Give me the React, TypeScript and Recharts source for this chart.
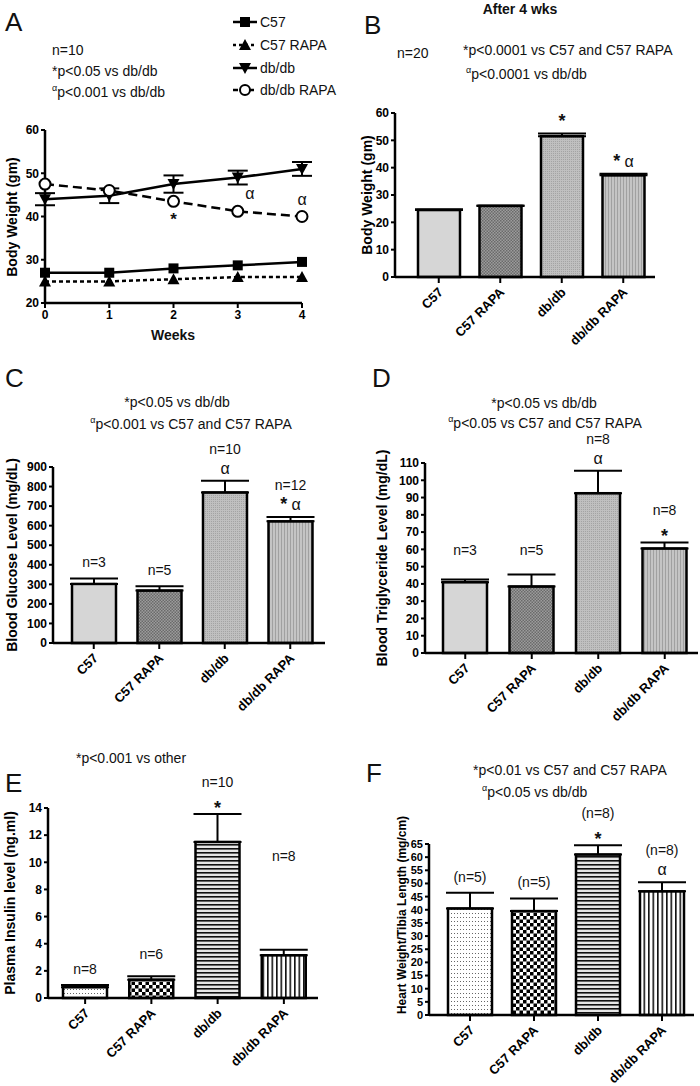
import React from "react";
import { LineChart, Line, BarChart, Bar, XAxis, YAxis, ErrorBar } from "recharts";

const FONT = "'Liberation Sans', Arial, Helvetica, sans-serif";

const groups = ["C57", "C57 RAPA", "db/db", "db/db RAPA"];

// A: body weight over 4 weeks
const weeks = [0, 1, 2, 3, 4];
const c57Weight = [27, 27, 28, 28.7, 29.5];
const c57RapaWeight = [25, 25, 25.5, 26, 26];
const dbWeight = [44, 44.8, 47.5, 49, 51];
const dbWeightErr = [1.4, 1.7, 2, 1.6, 1.6];
const dbRapaWeight = [47.5, 46, 43.5, 41.2, 40];
const dbRapaSig = ["", "", "*", "α", "α"];
const weightTicks = [20, 30, 40, 50, 60];

// B: body weight after 4 wks
const weight4 = [24.5, 26, 51.5, 37.2];
const weight4Err = [0.3, 0.2, 1, 0.6];
const weight4Sig = ["", "", "*", "* α"];
const weight4Ticks = [0, 10, 20, 30, 40, 50, 60];

// C: blood glucose
const glucose = [302, 268, 770, 622];
const glucoseErr = [28, 22, 60, 22];
const glucoseN = ["n=3", "n=5", "n=10", "n=12"];
const glucoseSig = ["", "", "α", "* α"];
const glucoseTicks = [0, 100, 200, 300, 400, 500, 600, 700, 800, 900];

// D: triglyceride
const trig = [41, 38.5, 92.5, 60.5];
const trigErr = [1.5, 7, 13, 3.5];
const trigN = ["n=3", "n=5", "n=8", "n=8"];
const trigSig = ["", "", "α", "*"];
const trigTicks = [0, 10, 20, 30, 40, 50, 60, 70, 80, 90, 100, 110];

// E: plasma insulin
const insulin = [0.8, 1.35, 11.5, 3.15];
const insulinErr = [0.15, 0.25, 2.05, 0.4];
const insulinN = ["n=8", "n=6", "n=10", "n=8"];
const insulinSig = ["", "", "*", ""];
const insulinTicks = [0, 2, 4, 6, 8, 10, 12, 14];

// F: heart weight / tibia length
const heart = [40.5, 39.5, 61, 47];
const heartErr = [6, 4.8, 3.5, 3.5];
const heartN = ["(n=5)", "(n=5)", "(n=8)", "(n=8)"];
const heartSig = ["", "", "*", "α"];
const heartTicks = [0, 5, 10, 15, 20, 25, 30, 35, 40, 45, 50, 55, 60, 65];

const grayFills = ["#d6d6d6", "url(#pGrayDark)", "url(#pGrayFine)", "url(#pGrayVert)"];
const bwFills = ["url(#pDots)", "url(#pChecker)", "url(#pHoriz)", "url(#pVert)"];

function Patterns() {
  return (
    <svg width={0} height={0} style={{ position: "absolute" }}>
      <defs>
        <pattern id="pGrayDark" width="3" height="3" patternUnits="userSpaceOnUse">
          <rect width="3" height="3" fill="#9c9c9c" />
          <rect width="1.5" height="1.5" fill="#6a6a6a" />
          <rect x="1.5" y="1.5" width="1.5" height="1.5" fill="#6a6a6a" />
        </pattern>
        <pattern id="pGrayFine" width="2" height="2" patternUnits="userSpaceOnUse">
          <rect width="2" height="2" fill="#c0c0c0" />
          <rect width="1" height="1" fill="#a4a4a4" />
        </pattern>
        <pattern id="pGrayVert" width="3" height="3" patternUnits="userSpaceOnUse">
          <rect width="3" height="3" fill="#c4c4c4" />
          <rect width="1" height="3" fill="#a0a0a0" />
        </pattern>
        <pattern id="pDots" width="3" height="4" patternUnits="userSpaceOnUse">
          <rect width="3" height="4" fill="#fff" />
          <rect x="1" y="1" width="1" height="1" fill="#666" />
        </pattern>
        <pattern id="pChecker" width="7" height="7" patternUnits="userSpaceOnUse">
          <rect width="7" height="7" fill="#fff" />
          <rect width="3.5" height="3.5" fill="#000" />
          <rect x="3.5" y="3.5" width="3.5" height="3.5" fill="#000" />
        </pattern>
        <pattern id="pHoriz" width="4" height="4" patternUnits="userSpaceOnUse">
          <rect width="4" height="4" fill="#e6e6e6" />
          <rect width="4" height="1.6" fill="#111" />
        </pattern>
        <pattern id="pVert" width="4.5" height="4" patternUnits="userSpaceOnUse">
          <rect width="4.5" height="4" fill="#fff" />
          <rect width="1.6" height="4" fill="#111" />
        </pattern>
      </defs>
    </svg>
  );
}

function Txt({ x, y, size = 14, bold = false, center = false, children }: any) {
  return (
    <div
      style={{
        position: "absolute", left: x, top: y, fontFamily: FONT, fontSize: size,
        fontWeight: bold ? "bold" : "normal", lineHeight: 1, whiteSpace: "nowrap", color: "#111",
        transform: `translate(${center ? "-50%" : "0"}, -50%)`,
      }}
    >
      {children}
    </div>
  );
}

function YTitle({ x, y, children, size = 14 }: any) {
  return (
    <div
      style={{
        position: "absolute", left: x, top: y, fontFamily: FONT, fontSize: size, fontWeight: "bold",
        lineHeight: 1, whiteSpace: "nowrap", color: "#000",
        transform: "translate(-50%, -50%) rotate(-90deg)",
      }}
    >
      {children}
    </div>
  );
}

const Alpha = () => <span style={{ fontSize: 9, verticalAlign: "6px" }}>α</span>;

const RotTick = (props: any) => {
  const { x, y, payload } = props;
  const ax = x + 5;
  const ay = y + 8;
  return (
    <text x={ax} y={ay} textAnchor="end" transform={`rotate(-45, ${ax}, ${ay})`}
      fontFamily={FONT} fontSize={13} fontWeight="bold" fill="#000">
      {payload.value}
    </text>
  );
};

function sigText(sig: string) {
  return sig.split("").map((c, i) =>
    c === "*" ? <tspan key={i} fontWeight="bold" fontSize={18}>*</tspan>
      : c === "α" ? <tspan key={i} fontSize={16}>α</tspan>
      : <tspan key={i} fontSize={15}>{c}</tspan>
  );
}

function topLabels(errs: number[], ns: string[] | undefined, sigs: string[] | undefined, lifts: number[]) {
  return (p: any) => {
    const { x, y, width, height, value, index } = p;
    const ppu = value ? height / value : 0;
    const errTop = y - errs[index] * ppu;
    const cx = x + width / 2;
    const sig = sigs ? sigs[index] : "";
    const n = ns ? ns[index] : "";
    let base = errTop - 7;
    const parts: any[] = [];
    if (sig) {
      parts.push(
        <text key="s" x={cx} y={sig === "*" ? base + 7 - (lifts[index] || 0) : base - (lifts[index] || 0)}
          textAnchor="middle" fontFamily={FONT} fill="#111">
          {sigText(sig)}
        </text>
      );
      base -= 20;
    } else {
      base = errTop - 11;
    }
    base -= lifts[index] || 0;
    if (n) {
      parts.push(
        <text key="n" x={cx} y={base} textAnchor="middle" fontFamily={FONT} fontSize={14} fill="#111">{n}</text>
      );
    }
    return <g key={`lab${index}`}>{parts}</g>;
  };
}

type Box = { left: number; right: number; top: number; bottom: number };

function BarPanel({ box, values, errs, ticks, fills, ns, sigs, padLeft, padRight, barSize = 44, tickFont = 12, lifts = [0, 0, 0, 0] }: {
  box: Box; values: number[]; errs: number[]; ticks: number[]; fills: string[]; ns?: string[]; sigs?: string[];
  padLeft: number; padRight: number; barSize?: number; tickFont?: number; lifts?: number[];
}) {
  const yW = 60;
  const mTop = 40;
  const xH = 70;
  const left = box.left - yW;
  const top = box.top - mTop;
  const width = box.right - left + 6;
  const height = box.bottom - top + xH + 2;
  const rows = groups.map((g, i) => ({ name: g, value: values[i], err: [0, errs[i]], fill: fills[i] }));
  return (
    <div style={{ position: "absolute", left, top }}>
      <BarChart width={width} height={height} data={rows} margin={{ top: mTop, right: 6, left: 0, bottom: 2 }}>
        <XAxis dataKey="name" interval={0} tick={<RotTick />} height={xH} padding={{ left: padLeft, right: padRight }}
          axisLine={{ stroke: "#000", strokeWidth: 2.5 }} tickLine={{ stroke: "#000", strokeWidth: 2 }} tickSize={6} />
        <YAxis width={yW} domain={[ticks[0], ticks[ticks.length - 1]]} ticks={ticks} interval={0}
          tick={{ fontFamily: FONT, fontSize: tickFont, fontWeight: "bold", fill: "#000" }}
          axisLine={{ stroke: "#000", strokeWidth: 2.5 }} tickLine={{ stroke: "#000", strokeWidth: 2 }} tickSize={4} />
        <Bar dataKey="value" barSize={barSize} stroke="#000" strokeWidth={2.5} isAnimationActive={false}
          label={topLabels(errs, ns, sigs, lifts)}
          shape={(p: any) => (
            <rect x={p.x} y={p.y} width={p.width} height={p.height} fill={p.payload.fill} stroke="#000" strokeWidth={2.5} />
          )}>
          <ErrorBar dataKey="err" width={24} stroke="#000" strokeWidth={2} direction="y" />
        </Bar>
      </BarChart>
    </div>
  );
}

const square = (p: any) => <rect key={`sq${p.index}`} x={p.cx - 5} y={p.cy - 5} width={10} height={10} fill="#000" />;
const triUp = (p: any) => (
  <path key={`tu${p.index}`} d={`M${p.cx},${p.cy - 6} L${p.cx + 6},${p.cy + 5} L${p.cx - 6},${p.cy + 5} Z`} fill="#000" />
);
const triDown = (p: any) => (
  <path key={`td${p.index}`} d={`M${p.cx},${p.cy + 6} L${p.cx + 6},${p.cy - 5} L${p.cx - 6},${p.cy - 5} Z`} fill="#000" />
);
const openCircle = (p: any) => (
  <circle key={`oc${p.index}`} cx={p.cx} cy={p.cy} r={5.5} fill="#fff" stroke="#000" strokeWidth={2} />
);

const alphaDx = [0, 0, 0, 12, 0];
const dbRapaLabel = (p: any) => {
  const s = dbRapaSig[p.index];
  if (!s) return <g key={`dl${p.index}`} />;
  const isStar = s === "*";
  return (
    <text key={`dl${p.index}`} x={p.x + alphaDx[p.index]} y={isStar ? p.y + 24 : p.y - 12} textAnchor="middle"
      fontFamily={FONT} fontSize={isStar ? 17 : 16} fontWeight={isStar ? "bold" : "normal"} fill="#111">{s}</text>
  );
};

function WeightLines() {
  const rows = weeks.map((w, i) => ({
    week: w, c57: c57Weight[i], c57Rapa: c57RapaWeight[i], db: dbWeight[i], dbErr: dbWeightErr[i], dbRapa: dbRapaWeight[i],
  }));
  return (
    <div style={{ position: "absolute", left: 0, top: 100 }}>
      <LineChart width={320} height={235} data={rows} margin={{ top: 30, right: 18, left: 0, bottom: 2 }}>
        <XAxis dataKey="week" type="number" domain={[0, 4]} ticks={weeks} interval={0} height={30}
          tick={{ fontFamily: FONT, fontSize: 12, fontWeight: "bold", fill: "#000" }}
          axisLine={{ stroke: "#000", strokeWidth: 2.5 }} tickLine={{ stroke: "#000", strokeWidth: 2 }} tickSize={5} />
        <YAxis width={45} domain={[20, 60]} ticks={weightTicks} interval={0}
          tick={{ fontFamily: FONT, fontSize: 12, fontWeight: "bold", fill: "#000" }}
          axisLine={{ stroke: "#000", strokeWidth: 2.5 }} tickLine={{ stroke: "#000", strokeWidth: 2 }} tickSize={4} />
        <Line dataKey="c57Rapa" stroke="#000" strokeWidth={2.5} strokeDasharray="4 3" dot={triUp} isAnimationActive={false} />
        <Line dataKey="c57" stroke="#000" strokeWidth={2.5} dot={square} isAnimationActive={false} />
        <Line dataKey="db" stroke="#000" strokeWidth={2.5} dot={triDown} isAnimationActive={false}>
          <ErrorBar dataKey="dbErr" width={10} stroke="#000" strokeWidth={2} direction="y" />
        </Line>
        <Line dataKey="dbRapa" stroke="#000" strokeWidth={2.5} strokeDasharray="9 5" dot={openCircle}
          label={dbRapaLabel} isAnimationActive={false} />
      </LineChart>
    </div>
  );
}

function LegendRow({ y, dash, marker, label }: any) {
  return (
    <div style={{ position: "absolute", left: 232, top: y, transform: "translateY(-50%)", display: "flex", alignItems: "center" }}>
      <svg width={26} height={14}>
        <line x1={1} y1={7} x2={25} y2={7} stroke="#000" strokeWidth={2.5} strokeDasharray={dash} />
        {marker === "sq" && <rect x={8} y={2} width={10} height={10} fill="#000" />}
        {marker === "tu" && <path d="M13,1 L19,12 L7,12 Z" fill="#000" />}
        {marker === "td" && <path d="M13,13 L19,2 L7,2 Z" fill="#000" />}
        {marker === "oc" && <circle cx={13} cy={7} r={5} fill="#fff" stroke="#000" strokeWidth={2} />}
      </svg>
      <span style={{ fontFamily: FONT, fontSize: 14, marginLeft: 2, color: "#111" }}>{label}</span>
    </div>
  );
}

export default function App() {
  return (
    <div style={{ position: "absolute", left: 0, top: 0, width: 700, height: 1086, background: "#fff", overflow: "hidden" }}>
      <Patterns />

      {/* A */}
      <Txt x={5} y={22} size={26}>A</Txt>
      <Txt x={52} y={50}>n=10</Txt>
      <Txt x={52} y={71}>*p&lt;0.05 vs db/db</Txt>
      <Txt x={52} y={91}><Alpha />p&lt;0.001 vs db/db</Txt>
      <LegendRow y={22} marker="sq" label="C57" />
      <LegendRow y={45} dash="3 3" marker="tu" label="C57 RAPA" />
      <LegendRow y={68} marker="td" label="db/db" />
      <LegendRow y={90} dash="5 3" marker="oc" label="db/db RAPA" />
      <YTitle x={12} y={217}>Body Weight (gm)</YTitle>
      <WeightLines />
      <Txt x={173} y={335} size={14} bold center>Weeks</Txt>

      {/* B */}
      <Txt x={520} y={9} size={14} bold center>After 4 wks</Txt>
      <Txt x={364} y={25} size={26}>B</Txt>
      <Txt x={397} y={53}>n=20</Txt>
      <Txt x={463} y={50}>*p&lt;0.0001 vs C57 and C57 RAPA</Txt>
      <Txt x={466} y={73}><Alpha />p&lt;0.0001 vs db/db</Txt>
      <YTitle x={367} y={195}>Body Weight (gm)</YTitle>
      <BarPanel box={{ left: 395, right: 655, top: 113, bottom: 277 }} values={weight4} errs={weight4Err}
        ticks={weight4Ticks} fills={grayFills} sigs={weight4Sig} padLeft={13} padRight={1} barSize={42} lifts={[0, 0, 7, 0]} />

      {/* C */}
      <Txt x={5} y={378} size={26}>C</Txt>
      <Txt x={177} y={402} center>*p&lt;0.05 vs db/db</Txt>
      <Txt x={191} y={423} center><Alpha />p&lt;0.001 vs C57 and C57 RAPA</Txt>
      <YTitle x={12} y={555}>Blood Glucose Level (mg/dL)</YTitle>
      <BarPanel box={{ left: 53, right: 325, top: 467, bottom: 643 }} values={glucose} errs={glucoseErr}
        ticks={glucoseTicks} fills={grayFills} ns={glucoseN} sigs={glucoseSig} padLeft={8} padRight={2} />

      {/* D */}
      <Txt x={372} y={378} size={26}>D</Txt>
      <Txt x={544} y={403} center>*p&lt;0.05 vs db/db</Txt>
      <Txt x={545} y={422} center><Alpha />p&lt;0.05 vs C57 and C57 RAPA</Txt>
      <YTitle x={382} y={558}>Blood Triglyceride Level (mg/dL)</YTitle>
      <BarPanel box={{ left: 425, right: 698, top: 463, bottom: 653 }} values={trig} errs={trigErr}
        ticks={trigTicks} fills={grayFills} ns={trigN} sigs={trigSig} padLeft={7} padRight={0} lifts={[14, 8, 0, 0]} />

      {/* E */}
      <Txt x={5} y={783} size={26}>E</Txt>
      <Txt x={131} y={758} center>*p&lt;0.001 vs other</Txt>
      <YTitle x={10} y={903}>Plasma Insulin level (ng.ml)</YTitle>
      <BarPanel box={{ left: 48, right: 318, top: 808, bottom: 998 }} values={insulin} errs={insulinErr}
        ticks={insulinTicks} fills={bwFills} ns={insulinN} sigs={insulinSig} padLeft={4} padRight={1} lifts={[0, 6, 0, 78]} />

      {/* F */}
      <Txt x={366} y={773} size={26}>F</Txt>
      <Txt x={473} y={770}>*p&lt;0.01 vs C57 and C57 RAPA</Txt>
      <Txt x={482} y={791}><Alpha />p&lt;0.05 vs db/db</Txt>
      <YTitle x={402} y={915} size={12}>Heart Weight/Tibia Length (mg/cm)</YTitle>
      <BarPanel box={{ left: 429, right: 694, top: 844, bottom: 1015 }} values={heart} errs={heartErr} tickFont={11}
        ticks={heartTicks} fills={bwFills} ns={heartN} sigs={heartSig} padLeft={9} padRight={0} />
    </div>
  );
}
